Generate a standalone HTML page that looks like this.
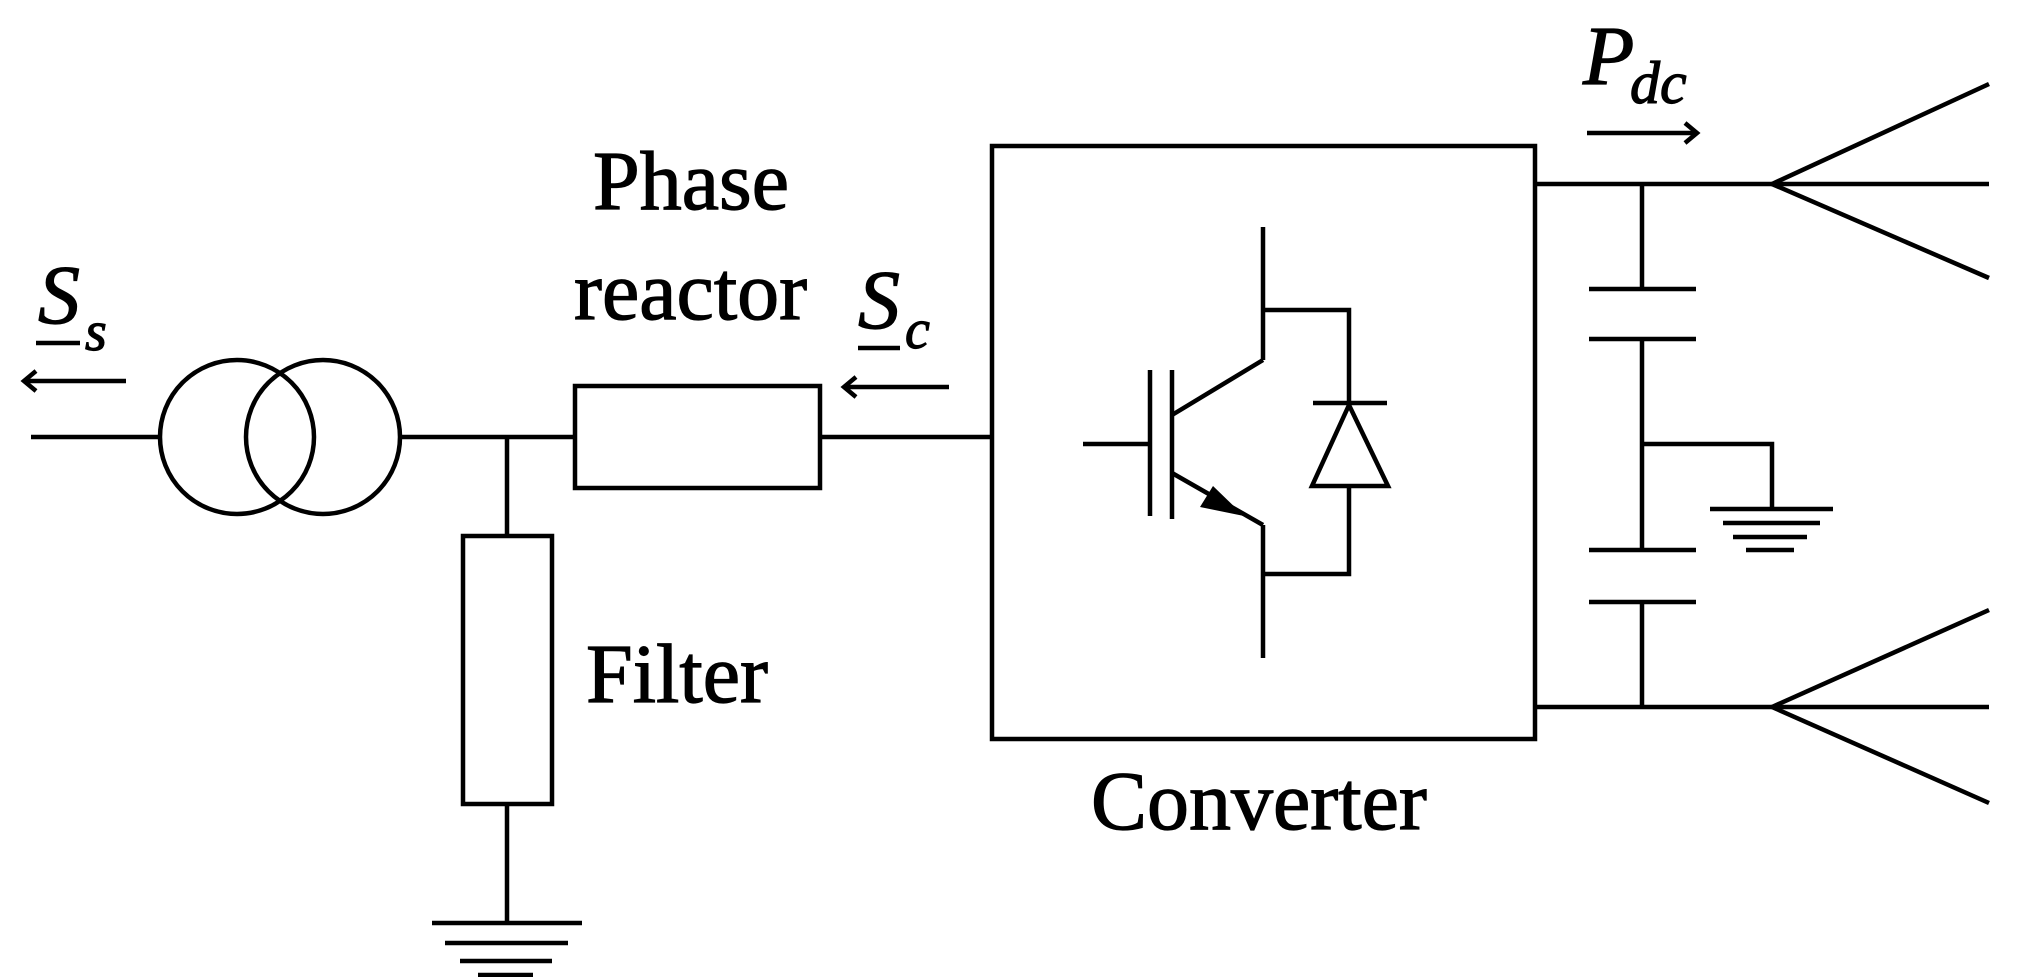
<!DOCTYPE html>
<html><head><meta charset="utf-8"><style>
html,body{margin:0;padding:0;background:#fff;}
svg{display:block;}
text{font-family:"Liberation Serif",serif;fill:#000;stroke:#000;stroke-width:1.2;}
</style></head><body>
<svg width="2017" height="977" viewBox="0 0 2017 977" xmlns="http://www.w3.org/2000/svg">
<g stroke="#000" stroke-width="4.5" fill="none" stroke-linecap="butt">
<line x1="31" y1="437" x2="160" y2="437"/>
<circle cx="237" cy="437" r="77"/>
<circle cx="323" cy="437" r="77"/>
<line x1="400" y1="437" x2="574" y2="437"/>
<line x1="507" y1="437" x2="507" y2="536"/>
<rect x="463" y="536" width="89" height="268"/>
<line x1="507" y1="804" x2="507" y2="923"/>
<line x1="432" y1="923" x2="582" y2="923"/>
<line x1="445" y1="943" x2="568" y2="943"/>
<line x1="460" y1="961" x2="552" y2="961"/>
<line x1="478" y1="975" x2="533" y2="975"/>
<rect x="575" y="386" width="245" height="102"/>
<line x1="820" y1="437" x2="992" y2="437"/>
<line x1="24" y1="381" x2="126" y2="381"/>
<polyline points="36,371 24,381 36,391"/>
<line x1="844" y1="387" x2="949" y2="387"/>
<polyline points="856,377 844,387 856,397"/>
<line x1="1587" y1="133" x2="1695" y2="133"/>
<polyline points="1685,123 1697,133 1685,143"/>
<rect x="992" y="146" width="543" height="593"/>
<line x1="1083" y1="444" x2="1148" y2="444"/>
<line x1="1150" y1="370" x2="1150" y2="516"/>
<line x1="1172" y1="370" x2="1172" y2="519"/>
<line x1="1172" y1="415" x2="1263" y2="360"/>
<line x1="1263" y1="227" x2="1263" y2="360"/>
<line x1="1172" y1="473" x2="1263" y2="525"/>
<line x1="1263" y1="525" x2="1263" y2="658"/>
<polyline points="1263,310 1349,310 1349,403"/>
<line x1="1313" y1="403" x2="1387" y2="403"/>
<polygon points="1349,405 1312,486 1388,486"/>
<polyline points="1349,486 1349,574 1263,574"/>
<line x1="1535" y1="184" x2="1989" y2="184"/>
<line x1="1772" y1="184" x2="1989" y2="84"/>
<line x1="1772" y1="184" x2="1989" y2="278"/>
<line x1="1535" y1="707" x2="1989" y2="707"/>
<line x1="1772" y1="707" x2="1989" y2="610"/>
<line x1="1772" y1="707" x2="1989" y2="803"/>
<line x1="1642" y1="184" x2="1642" y2="289"/>
<line x1="1589" y1="289" x2="1696" y2="289"/>
<line x1="1589" y1="339" x2="1696" y2="339"/>
<line x1="1642" y1="339" x2="1642" y2="550"/>
<line x1="1589" y1="550" x2="1696" y2="550"/>
<line x1="1589" y1="602" x2="1696" y2="602"/>
<line x1="1642" y1="602" x2="1642" y2="707"/>
<polyline points="1642,444 1772,444 1772,509"/>
<line x1="1710" y1="509" x2="1833" y2="509"/>
<line x1="1723" y1="523" x2="1820" y2="523"/>
<line x1="1733" y1="537" x2="1807" y2="537"/>
<line x1="1746" y1="550" x2="1794" y2="550"/>
<line x1="36" y1="343" x2="80" y2="343"/>
<line x1="858" y1="348" x2="900" y2="348"/>
</g>
<polygon points="1213,486 1244,516 1200,507" fill="#000"/>
<text x="38" y="323" font-size="84" font-style="italic">S</text>
<text x="85" y="350" font-size="56" font-style="italic">s</text>
<text x="858" y="328" font-size="84" font-style="italic">S</text>
<text x="905" y="348" font-size="56" font-style="italic">c</text>
<text x="1583" y="84" font-size="84" font-style="italic">P</text>
<text x="1630" y="103" font-size="60" font-style="italic">dc</text>
<text x="593" y="209" font-size="84">Phase</text>
<text x="574" y="319" font-size="84">reactor</text>
<text x="586" y="702" font-size="84">Filter</text>
<text x="1091" y="829" font-size="84">Converter</text>
</svg>
</body></html>
